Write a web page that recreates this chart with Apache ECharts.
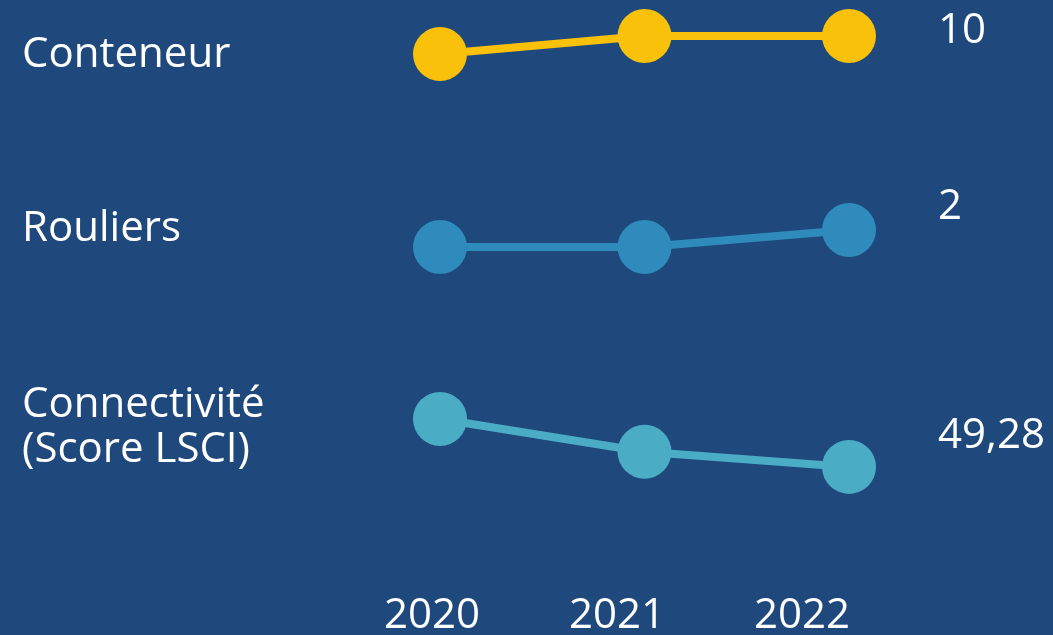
<!DOCTYPE html>
<html><head><meta charset="utf-8">
<script src="https://cdn.jsdelivr.net/npm/echarts@6/dist/echarts.min.js"></script>
<style>html,body{margin:0;padding:0;background:#1F497D}#c{width:1053px;height:635px}</style>
</head><body><div id="c"></div>
<script>
const years = ['2020', '2021', '2022'];
const seriesNames = ['Conteneur', 'Rouliers', 'Connectivité\n(Score LSCI)'];
const conteneur = [9, 10, 10];
const rouliers = [1, 1, 2];
const connectivite = [52.5, 50.3, 49.28];

const FONT = 'Open Sans';
const colors = ['#FAC10A', '#2E8BBB', '#4BACC6'];
const dataSets = [conteneur, rouliers, connectivite];
// grid geometry per row: top, height, ymin, ymax
const rows = [
  {top: 0, height: 90, min: 7, max: 12, labelOffset: [0, -5]},
  {top: 196, height: 85, min: -1, max: 4, labelOffset: [0, -23]},
  {top: 381.7, height: 134.1, min: 46, max: 55, labelOffset: [0, -31]}
];
const chart = echarts.init(document.getElementById('c'));
const grids = [], xAxes = [], yAxes = [], series = [];
rows.forEach((r, i) => {
  grids.push({left: 440, right: 204, top: r.top, height: r.height});
  xAxes.push({type: 'category', gridIndex: i, data: years, boundaryGap: false, show: false});
  yAxes.push({type: 'value', gridIndex: i, min: r.min, max: r.max, show: false});
  const d = dataSets[i].map((v, j) => j === dataSets[i].length - 1 ? {
    value: v,
    label: {show: true, position: 'right', distance: 62, offset: r.labelOffset,
      formatter: p => String(p.value).replace('.', ','),
      color: '#fff', fontFamily: FONT, fontSize: 42}
  } : v);
  series.push({type: 'line', xAxisIndex: i, yAxisIndex: i, data: d, clip: false,
    symbol: 'circle', symbolSize: 54, lineStyle: {color: colors[i], width: 8},
    itemStyle: {color: colors[i]}, silent: true, animation: false});
});
// axis for year labels
grids.push({left: 339.5, right: 158.5, top: 560, height: 20});
xAxes.push({type: 'category', gridIndex: 3, data: years, boundaryGap: true,
  axisLine: {show: false}, axisTick: {show: false},
  axisLabel: {color: '#fff', fontFamily: FONT, fontSize: 42, margin: 30}});
yAxes.push({type: 'value', gridIndex: 3, show: false});

const nameY = [63, 237, 413];
chart.setOption({
  backgroundColor: '#1F497D',
  animation: false,
  grid: grids, xAxis: xAxes, yAxis: yAxes, series: series,
  graphic: seriesNames.map((n, i) => ({
    type: 'text', left: 22, top: nameY[i] - 30,
    style: {text: n, fill: '#fff', font: '42px "' + FONT + '"', lineHeight: 45}
  }))
});
</script></body></html>
